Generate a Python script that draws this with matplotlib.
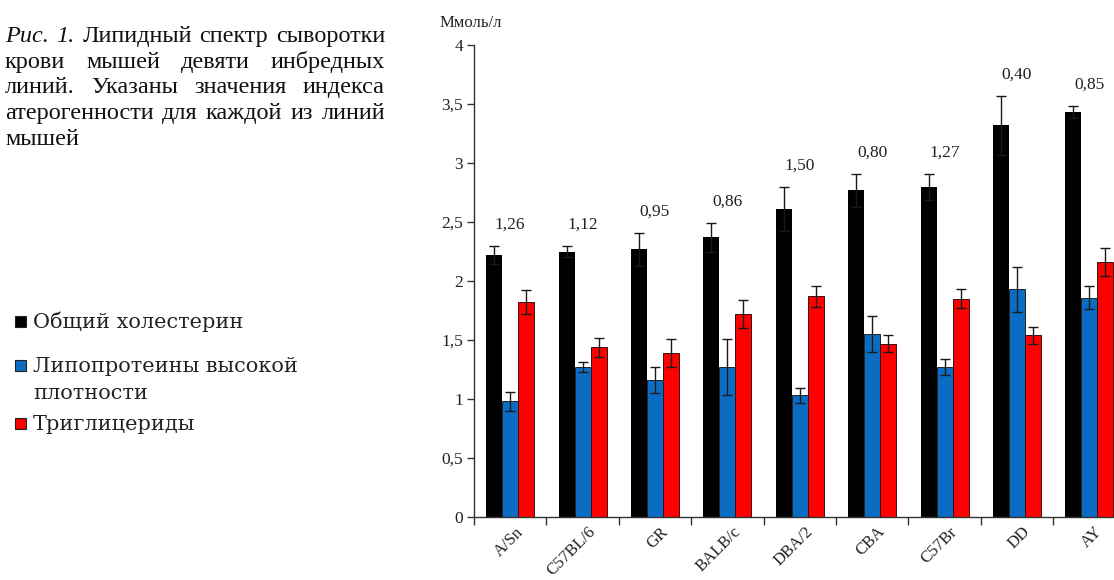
import numpy as np
import matplotlib
matplotlib.use("Agg")
import matplotlib.pyplot as plt
import matplotlib.patches as mpatches
import matplotlib.transforms as mtransforms
from matplotlib.ticker import FixedLocator, FuncFormatter

strains = ['A/Sn', 'C57BL/6', 'GR', 'BALB/c', 'DBA/2', 'CBA', 'C57Br', 'DD', 'AY']

total_chol = [2.22, 2.25, 2.27, 2.37, 2.61, 2.77, 2.80, 3.32, 3.43]
total_chol_err = [0.08, 0.05, 0.14, 0.12, 0.19, 0.14, 0.11, 0.25, 0.05]

hdl = [0.98, 1.27, 1.16, 1.27, 1.03, 1.55, 1.27, 1.93, 1.86]
hdl_err = [0.08, 0.04, 0.11, 0.24, 0.06, 0.15, 0.07, 0.19, 0.10]

trig = [1.82, 1.44, 1.39, 1.72, 1.87, 1.47, 1.85, 1.54, 2.16]
trig_err = [0.10, 0.08, 0.12, 0.12, 0.09, 0.07, 0.08, 0.07, 0.12]

athero_index = ['1,26', '1,12', '0,95', '0,86', '1,50', '0,80', '1,27', '0,40', '0,85']

series_names = ['Общий холестерин', 'Липопротеины высокой\nплотности', 'Триглицериды']

caption_lines = [
    [('Рис.', 'italic'), ('1.', 'italic'), ('Липидный', 'normal'), ('спектр', 'normal'), ('сыворотки', 'normal')],
    [('крови', 'normal'), ('мышей', 'normal'), ('девяти', 'normal'), ('инбредных', 'normal')],
    [('линий.', 'normal'), ('Указаны', 'normal'), ('значения', 'normal'), ('индекса', 'normal')],
    [('атерогенности', 'normal'), ('для', 'normal'), ('каждой', 'normal'), ('из', 'normal'), ('линий', 'normal')],
    [('мышей', 'normal')],
]

serif = 'Liberation Serif'
W, H = 1114, 580
fig = plt.figure(figsize=(W / 100, H / 100), dpi=100)
fig.patch.set_facecolor('white')

cat_w = 72.4
ax = fig.add_axes([474 / W, 63 / H, 9 * cat_w / W, (517 - 45) / H])

x = np.arange(len(strains)) + 0.5
bw = 0.221
err_kw = dict(ecolor='#1a1a1a', elinewidth=1.0, capsize=3.5, capthick=1.0)
b1 = ax.bar(x - bw, total_chol, bw, yerr=total_chol_err, color='black', error_kw=err_kw)
b2 = ax.bar(x, hdl, bw, yerr=hdl_err, color='#0a6cc2', edgecolor='#222222', linewidth=0.7,
            error_kw=err_kw)
b3 = ax.bar(x + bw, trig, bw, yerr=trig_err, color='#fe0000', edgecolor='#3a1010', linewidth=0.7,
            error_kw=err_kw)

for xi, top, e, lab in zip(x, total_chol, total_chol_err, athero_index):
    ax.text(xi, top + e + 0.18, lab, ha='center', va='center', fontsize=12.5, family=serif, color='#222222')

ax.set_xlim(0, len(strains))
ax.set_ylim(0, 4)
ax.spines['top'].set_visible(False)
ax.spines['right'].set_visible(False)
for s in ('left', 'bottom'):
    ax.spines[s].set_color('#333333')
    ax.spines[s].set_linewidth(1.0)

ax.set_yticks(np.arange(0, 4.01, 0.5))
ax.yaxis.set_major_formatter(FuncFormatter(lambda v, p: ('%g' % v).replace('.', ',')))
ax.tick_params(axis='y', direction='out', length=5, width=1, color='#333333', pad=3,
               labelsize=12.5, labelcolor='#222222')
for t in ax.get_yticklabels():
    t.set_family(serif)

ax.xaxis.set_minor_locator(FixedLocator(np.arange(len(strains) + 1)))
ax.set_xticks(x)
ax.set_xticklabels(strains, rotation=45, ha='right', va='top', rotation_mode='anchor',
                   family=serif, fontsize=12, color='#222222')
ax.tick_params(axis='x', which='major', length=0, pad=5)
ax.tick_params(axis='x', which='minor', direction='out', length=6, width=1, color='#333333')
shift = mtransforms.ScaledTranslation(5 / 100, 0, fig.dpi_scale_trans)
for t in ax.get_xticklabels():
    t.set_transform(t.get_transform() + shift)

fig.text(440 / W, 1 - 27 / H, 'Ммоль/л', family=serif, fontsize=12, va='baseline', ha='left',
         color='#222222')

# legend on the left, drawn by hand (uneven line spacing as in the original)
leg_base = [328, 372, 430]
line_step = 27
for bars, name, yb in zip([b1, b2, b3], series_names, leg_base):
    fc = bars.patches[0].get_facecolor()
    fig.patches.append(mpatches.Rectangle((15 / W, 1 - (yb - 1) / H), 11 / W, 11 / H,
                                          transform=fig.transFigure, facecolor=fc,
                                          edgecolor='#222222', linewidth=0.8))
    for k, part in enumerate(name.split('\n')):
        fig.text(33 / W, 1 - (yb + k * line_step) / H, part, family='DejaVu Serif', fontsize=15,
                 va='baseline', ha='left', color='#222222')

# justified caption
renderer = fig.canvas.get_renderer()
x0, x1 = 5, 385
cap_size = 17.5
line_y = [42, 68, 93, 119, 145]
for li, (words, yy) in enumerate(zip(caption_lines, line_y)):
    texts = [fig.text(0, 1 - yy / H, w, family=serif, style=st, fontsize=cap_size, va='baseline',
                      ha='left', color='#111111') for w, st in words]
    widths = [t.get_window_extent(renderer).width for t in texts]
    if li < len(caption_lines) - 1 and len(texts) > 1:
        gap = (x1 - x0 - sum(widths)) / (len(texts) - 1)
    else:
        gap = 6
    cx = x0
    for t, wd in zip(texts, widths):
        t.set_x(cx / W)
        cx += wd + gap

fig.savefig('out.png', dpi=100, facecolor='white')
